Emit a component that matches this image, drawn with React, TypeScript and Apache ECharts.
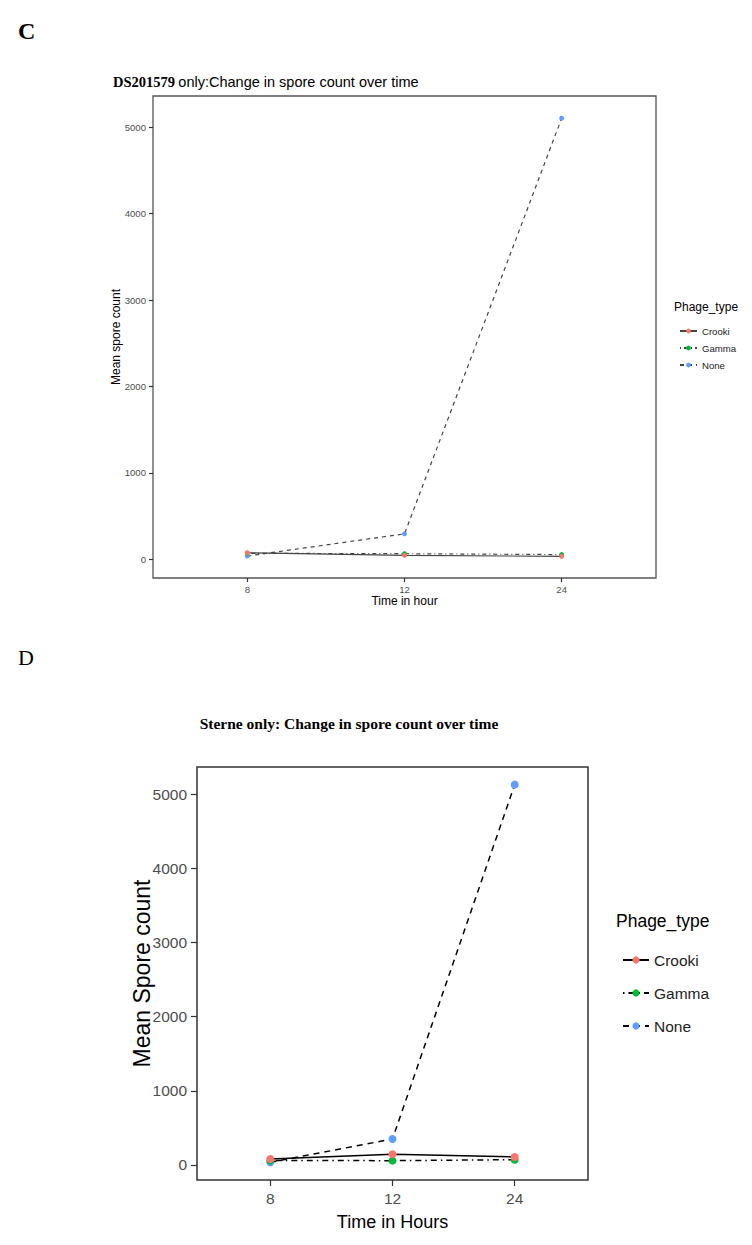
import React, { useEffect, useRef } from 'react';
import * as echarts from 'echarts';

// ---------- data ----------
const timeLabels = ['8', '12', '24'];
const yTickValues = [0, 1000, 2000, 3000, 4000, 5000];
const phageTypes = ['Crooki', 'Gamma', 'None'];
const phageColors = ['#F8766D', '#00BA38', '#619CFF'];

// Panel C: DS201579
const dsCrooki = [76, 46, 35];
const dsGamma = [70, 65, 55];
const dsNone = [38, 295, 5105];

// Panel D: Sterne
const stCrooki = [81, 144, 108];
const stGamma = [60, 58, 71];
const stNone = [36, 350, 5130];

const SANS = 'Liberation Sans, Arial, sans-serif';
const SERIF = 'Liberation Serif, Times New Roman, serif';

function toPoints(vals: number[]) {
  return vals.map((v, i) => [i + 1, v]);
}

export default function App() {
  const ref = useRef<HTMLDivElement>(null);

  useEffect(() => {
    if (!ref.current) return;
    const chart = echarts.init(ref.current, null, { renderer: 'svg' });

    const panels = [
      {
        series: [dsCrooki, dsGamma, dsNone],
        suffix: '',
        lineColor: '#444',
        lineWidth: 1.2,
        dashes: ['solid', [1, 3, 4, 3], [4, 4]],
        symbolSize: 5,
      },
      {
        series: [stCrooki, stGamma, stNone],
        suffix: ' ',
        lineColor: '#000',
        lineWidth: 1.5,
        dashes: ['solid', [1.5, 4, 6, 4], [6, 5]],
        symbolSize: 8,
      },
    ];

    const series: any[] = [];
    panels.forEach((p, gi) => {
      p.series.forEach((vals, si) => {
        series.push({
          type: 'line',
          name: phageTypes[si] + p.suffix,
          xAxisIndex: gi,
          yAxisIndex: gi,
          data: toPoints(vals),
          symbol: 'circle',
          symbolSize: p.symbolSize,
          showSymbol: true,
          z: 5 - si,
          itemStyle: { color: phageColors[si], borderWidth: 0 },
          lineStyle: { color: p.lineColor, width: p.lineWidth, type: p.dashes[si] },
          emphasis: { disabled: true },
        });
      });
    });

    const xAxis = (gi: number, fs: number, margin: number, name: string, nameFs: number, nameGap: number, tickLen: number) => ({
      type: 'value',
      gridIndex: gi,
      min: 0.4,
      max: 3.6,
      axisLine: { show: false, onZero: false },
      splitLine: { show: false },
      axisTick: { show: true, customValues: [1, 2, 3], length: tickLen, lineStyle: { color: '#333', width: 1.2 } },
      axisLabel: {
        customValues: [1, 2, 3],
        formatter: (v: number) => timeLabels[Math.round(v) - 1],
        color: '#4d4d4d',
        fontSize: fs,
        fontFamily: SANS,
        margin,
      },
      name,
      nameLocation: 'middle',
      nameGap,
      nameMoveOverlap: false,
      nameTextStyle: { color: '#000', fontSize: nameFs, fontFamily: SANS },
    });

    const yAxis = (gi: number, min: number, max: number, fs: number, margin: number, name: string, nameFs: number, nameGap: number, tickLen: number) => ({
      type: 'value',
      gridIndex: gi,
      min,
      max,
      axisLine: { show: false, onZero: false },
      splitLine: { show: false },
      axisTick: { show: true, customValues: yTickValues, length: tickLen, lineStyle: { color: '#333', width: 1.2 } },
      axisLabel: {
        customValues: yTickValues,
        formatter: (v: number) => String(v),
        color: '#4d4d4d',
        fontSize: fs,
        fontFamily: SANS,
        margin,
      },
      name,
      nameLocation: 'middle',
      nameGap,
      nameMoveOverlap: false,
      nameTextStyle: { color: '#000', fontSize: nameFs, fontFamily: SANS },
    });

    const option: any = {
      animation: false,
      backgroundColor: '#fff',
      grid: [
        { left: 153, top: 96, width: 503, height: 482, show: true, borderColor: '#555', borderWidth: 1.3, backgroundColor: 'transparent', containLabel: false },
        { left: 197, top: 767, width: 391, height: 413, show: true, borderColor: '#333', borderWidth: 1.5, backgroundColor: 'transparent', containLabel: false },
      ],
      xAxis: [
        xAxis(0, 9.6, 6, 'Time in hour', 12, 17, 4),
        xAxis(1, 15.5, 10, 'Time in Hours', 18, 33, 6),
      ],
      yAxis: [
        yAxis(0, -216, 5362, 9.6, 7, 'Mean spore count', 12, 31, 4),
        yAxis(1, -203, 5368, 15.5, 10, 'Mean Spore count', 23, 44, 6),
      ],
      legend: [
        {
          data: phageTypes,
          orient: 'vertical',
          left: 674,
          top: 321,
          itemWidth: 17,
          itemHeight: 6,
          itemGap: 7,
          textStyle: { fontSize: 9.6, fontFamily: SANS, color: '#222' },
          selectedMode: false,
        },
        {
          data: phageTypes.map((n) => n + ' '),
          formatter: (n: string) => n.trim(),
          orient: 'vertical',
          left: 617,
          top: 947,
          itemWidth: 26,
          itemHeight: 9,
          itemGap: 17,
          textStyle: { fontSize: 15.5, fontFamily: SANS, color: '#222' },
          selectedMode: false,
        },
      ],
      graphic: [
        { type: 'text', x: 18, y: 31, style: { text: 'C', font: `bold 24px ${SERIF}`, fill: '#000', textVerticalAlign: 'middle' } },
        { type: 'text', x: 18, y: 657, style: { text: 'D', font: `22px ${SERIF}`, fill: '#000', textVerticalAlign: 'middle' } },
        {
          type: 'text',
          x: 113,
          y: 82,
          style: {
            text: '{a|DS201579} {b|only:Change in spore count over time}',
            rich: {
              a: { fontFamily: SERIF, fontWeight: 'bold', fontSize: 14.5, fill: '#000' },
              b: { fontFamily: SANS, fontSize: 14.5, fill: '#000' },
            },
            textVerticalAlign: 'middle',
          },
        },
        { type: 'text', x: 349, y: 723, style: { text: 'Sterne only: Change in spore count over time', font: `bold 15.5px ${SERIF}`, fill: '#000', textAlign: 'center', textVerticalAlign: 'middle' } },
        { type: 'text', x: 674, y: 307, style: { text: 'Phage_type', font: `12px ${SANS}`, fill: '#000', textVerticalAlign: 'middle' } },
        { type: 'text', x: 616, y: 921, style: { text: 'Phage_type', font: `17.5px ${SANS}`, fill: '#000', textVerticalAlign: 'middle' } },
      ],
      series,
    };

    chart.setOption(option);
    return () => chart.dispose();
  }, []);

  return (
    <div
      ref={ref}
      style={{ position: 'absolute', left: 0, top: 0, width: 752, height: 1245, background: '#fff' }}
    />
  );
}
